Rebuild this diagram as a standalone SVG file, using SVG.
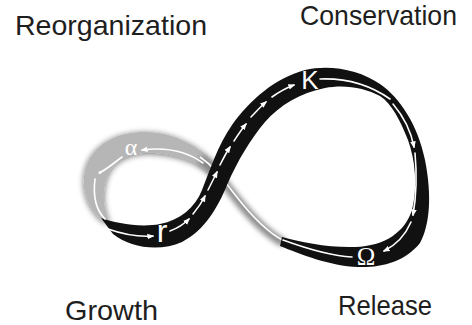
<svg xmlns="http://www.w3.org/2000/svg" width="472" height="325" viewBox="0 0 472 325">
<defs>
<style>
.lbl{font-family:"Liberation Sans","Open Sans",Arial,sans-serif;font-size:28px;fill:#1e1e1e}
.sym{fill:#fff;font-family:"Liberation Sans",Arial,sans-serif}
.wl{fill:none;stroke:#fff;stroke-width:1.6;stroke-linecap:round}
</style>
<marker id="ah" viewBox="0 0 10 10" refX="8" refY="5" markerWidth="7" markerHeight="7" markerUnits="userSpaceOnUse" orient="auto"><path d="M0,1 L10,5 L0,9 z" fill="#fff"/></marker>
<filter id="soft" x="-20%" y="-20%" width="140%" height="140%"><feGaussianBlur in="SourceAlpha" stdDeviation="3.2"/><feOffset dx="0" dy="1"/><feComponentTransfer><feFuncA type="linear" slope="0.6"/></feComponentTransfer><feMerge><feMergeNode/><feMergeNode in="SourceGraphic"/></feMerge></filter>
<filter id="blur" x="-20%" y="-20%" width="140%" height="140%"><feGaussianBlur stdDeviation="2.4"/></filter>
</defs>
<rect width="472" height="325" fill="#fff"/>

<g id="reorganization-loop">
<path d="M103,221 C87,208 79,185 87,164 C97,141 120,132 145,132 C176,132 201,148 217,165 L212,176 C200,162 180,155 155,153 C131,151 113,160 107,177 C101,195 104,210 110,223 Z" fill="#b6b6b6" filter="url(#soft)"/>
</g>

<g id="ribbon">
<path d="M200,159 C215,169 225,184 236,198 C250,216 265,233 284,243" fill="none" stroke="#7a7a7a" stroke-width="9" filter="url(#blur)" opacity="0.85"/>
<path d="M200,157 C215,167 225,182 236,196 C250,214 265,231 284,241" fill="none" stroke="#fff" stroke-width="1.6"/>
</g>

<g id="cycle-band">
<path d="M101,218 C115,223 140,228 160,224 C180,220 195,208 202,190 C210,170 218,145 232,125 C250,100 275,78 305,70 C330,64 360,70 380,84 C400,98 418,125 425,160 C432,195 430,225 420,243 C405,262 380,268 358,267 C330,266 300,254 280,246 L282,237 C300,242 330,248 355,247 C385,246 405,232 412,210 C418,185 415,160 408,140 C400,120 392,104 380,96 C365,88 345,84 325,88 C300,93 280,105 265,122 C250,140 238,160 227,185 C218,207 205,230 182,242 C160,252 130,248 113,234 Z" fill="#111"/>
</g>

<g id="connectors">
<path class="wl" d="M203,163 C185,150 165,147 142,150" marker-end="url(#ah)"/>
<path class="wl" d="M122,157 C115,162 110,167 101,172"/>
<circle cx="100" cy="172.5" r="1.6" fill="#fff"/>
<path class="wl" d="M95,179 C93,195 96,210 105,219"/>
<path class="wl" d="M108,229 C125,235 140,237 153,236" marker-end="url(#ah)"/>
<path class="wl" d="M170,231 C178,228 184,224 189,219" marker-end="url(#ah)"/>
<path class="wl" d="M193,214 C198,208 202,202 205,196" marker-end="url(#ah)"/>
<path class="wl" d="M208,190 C211,184 214,178 217,172" marker-end="url(#ah)"/>
<path class="wl" d="M220,165 C223,159 226,153 230,147" marker-end="url(#ah)"/>
<path class="wl" d="M234,141 C238,135 241,130 246,124" marker-end="url(#ah)"/>
<path class="wl" d="M251,117 C256,112 260,107 266,102" marker-end="url(#ah)"/>
<path class="wl" d="M272,97 C279,92 286,88 294,85" marker-end="url(#ah)"/>
<path class="wl" d="M320,79 C345,78 370,85 390,99"/>
<path class="wl" d="M393,104 C404,117 411,131 414,147" marker-end="url(#ah)"/>
<path class="wl" d="M415,153 C417,175 416,198 413,215" marker-end="url(#ah)"/>
<path class="wl" d="M411,222 C405,236 396,245 384,251" marker-end="url(#ah)"/>
<path class="wl" d="M352,257 C330,256 305,248 283,240"/>
</g>

<g id="symbols">
<text class="sym" x="310" y="89" font-size="26" text-anchor="middle">K</text>
<text class="sym" x="162" y="242" font-size="32" text-anchor="middle">r</text>
<text x="366" y="265" font-size="25" text-anchor="middle" fill="#fff" font-family="'Liberation Serif','Times New Roman',serif">Ω</text>
<text x="131" y="155" font-size="24" text-anchor="middle" fill="#fff" font-family="'Liberation Serif','Times New Roman',serif">α</text>
</g>

<g id="reorganization"><text class="lbl" x="15" y="35" textLength="192" lengthAdjust="spacingAndGlyphs">Reorganization</text></g>
<g id="conservation"><text class="lbl" x="300" y="25" textLength="157" lengthAdjust="spacingAndGlyphs">Conservation</text></g>
<g id="growth"><text class="lbl" x="65" y="320" textLength="93" lengthAdjust="spacingAndGlyphs">Growth</text></g>
<g id="release"><text class="lbl" x="338" y="315" textLength="94" lengthAdjust="spacingAndGlyphs">Release</text></g>
</svg>
